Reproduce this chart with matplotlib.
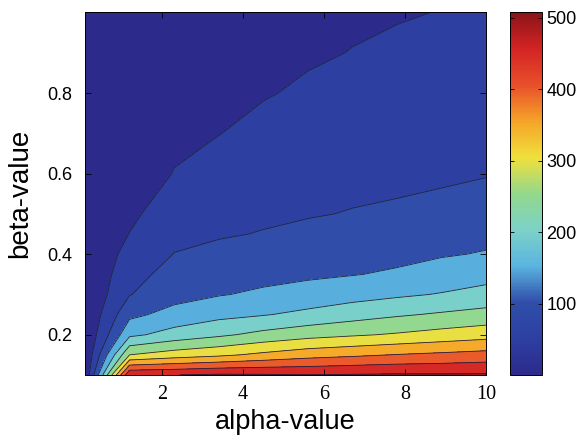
import matplotlib
matplotlib.use("Agg")
import matplotlib.pyplot as plt
import numpy as np
from matplotlib.colors import LinearSegmentedColormap, Normalize
from matplotlib.cm import ScalarMappable

# grid
alpha = [0.1, 1.2, 2.3, 3.4, 4.5, 5.6, 6.7, 7.8, 8.9, 10.0]
beta = [0.1, 0.15, 0.2, 0.25, 0.3, 0.35, 0.4, 0.45, 0.5, 0.6, 0.7, 0.8, 0.9, 1.0]

# one row per beta value, one column per alpha value
z_values = [
    [3, 497, 499, 507, 505, 501, 504, 506, 505, 507],
    [3, 300, 324, 340, 361, 380, 391, 402, 410, 418],
    [2, 189, 219, 241, 264, 282, 294, 305, 318, 330],
    [2, 138, 167, 186, 197, 212, 229, 244, 256, 267],
    [2, 98, 132, 147, 158, 169, 181, 192, 203, 217],
    [2, 82, 118, 129, 136, 142, 148, 156, 170, 182],
    [2, 67, 101, 111, 119, 126, 133, 138, 146, 153],
    [1, 51, 89, 96, 102, 110, 118, 124, 131, 138],
    [1, 40, 77, 87, 93, 97, 102, 105, 109, 118],
    [1, 33, 51, 68, 77, 84, 88, 92, 95, 98],
    [1, 28, 44, 49, 62, 70, 76, 80, 84, 87],
    [1, 24, 39, 43, 47, 56, 63, 68, 73, 76],
    [1, 21, 34, 38, 42, 45, 51, 57, 62, 64],
    [1, 19, 30, 34, 38, 40, 44, 47, 51, 53],
]

levels = [0, 50, 100, 150, 200, 250, 300, 350, 400, 450, 500]
cbar_ticks = [100, 200, 300, 400, 500]

# muted jet
jet_colors = [
    (0.0, "#2c2a8a"),
    (0.1, "#2d40a2"),
    (0.2, "#304eaa"),
    (0.3, "#5ab4e0"),
    (0.4, "#7cd2c8"),
    (0.5, "#93d88c"),
    (0.6, "#f0e03c"),
    (0.7, "#f5a428"),
    (0.8, "#e8502a"),
    (0.9, "#d42424"),
    (1.0, "#8c1418"),
]
cmap = LinearSegmentedColormap.from_list("mjet", jet_colors)
norm = Normalize(0, 507)

fig = plt.figure(figsize=(5.83, 4.43), dpi=100)
W, H = 583, 443
ax = fig.add_axes([85 / W, 1 - 375 / H, 401 / W, 362.5 / H])
cax = fig.add_axes([510 / W, 1 - 375 / H, 32 / W, 362.5 / H])

A, B = np.meshgrid(alpha, beta)
Z = np.array(z_values, dtype=float)

fill_levels = levels + [600]
band_colors = [cmap(norm(v)) for v in fill_levels[:-1]]
ax.contourf(A, B, Z, levels=fill_levels, colors=band_colors)
ax.contour(A, B, Z, levels=levels[1:], colors="#22223a", linewidths=0.6)

ax.set_xlim(0.1, 10)
ax.set_ylim(0.1, 1.0)
ax.set_xticks([2, 4, 6, 8, 10])
ax.set_yticks([0.2, 0.4, 0.6, 0.8])
ax.tick_params(direction="in", top=True, right=True, length=4, width=0.6)
ax.tick_params(axis="x", pad=7)
ax.tick_params(axis="y", pad=9)
for lab in ax.get_xticklabels():
    lab.set_fontfamily("Liberation Serif")
    lab.set_fontsize(14.5)
for lab in ax.get_yticklabels():
    lab.set_fontfamily("Liberation Sans")
    lab.set_fontsize(13)
for s in ax.spines.values():
    s.set_linewidth(0.7)

ax.set_xlabel("alpha-value", fontsize=19.5, family="Liberation Sans", labelpad=4)
ax.set_ylabel("beta-value", fontsize=20, family="Liberation Sans", labelpad=10)

cb = fig.colorbar(ScalarMappable(norm=norm, cmap=cmap), cax=cax, ticks=cbar_ticks)
cax.tick_params(direction="in", left=True, right=True, length=3, width=0.6, pad=3)
for lab in cax.get_yticklabels():
    lab.set_fontfamily("Liberation Sans")
    lab.set_fontsize(13)
cb.outline.set_linewidth(0.7)

fig.savefig("out.png", dpi=100)
